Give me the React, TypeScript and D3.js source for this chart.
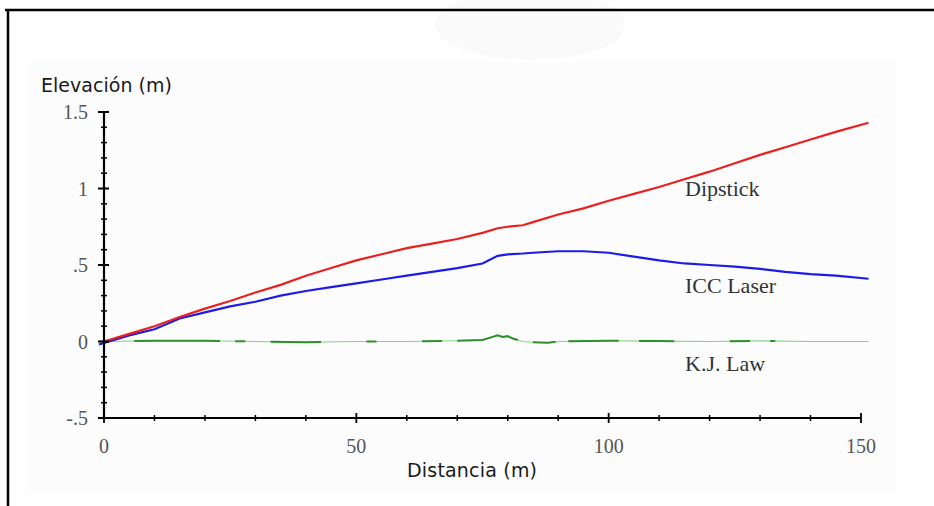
import React from "react";
import * as d3 from "d3";

// distance (m) and elevation (m)
const dipstickX = [0, 5, 10, 15, 20, 25, 30, 35, 40, 45, 50, 55, 60, 65, 70, 75, 78, 80, 83, 85, 90, 95, 100, 105, 110, 115, 120, 125, 130, 135, 140, 145, 151.5];
const dipstickY = [0, 0.05, 0.1, 0.16, 0.215, 0.265, 0.32, 0.37, 0.43, 0.48, 0.53, 0.57, 0.61, 0.64, 0.67, 0.71, 0.74, 0.75, 0.76, 0.78, 0.83, 0.87, 0.92, 0.965, 1.01, 1.06, 1.11, 1.165, 1.22, 1.27, 1.32, 1.37, 1.43];

const laserX = [-1, 0, 5, 10, 15, 20, 25, 30, 35, 40, 45, 50, 55, 60, 65, 70, 75, 78, 80, 83, 85, 90, 95, 100, 105, 110, 115, 120, 125, 130, 135, 140, 145, 151.5];
const laserY = [-0.02, -0.01, 0.04, 0.08, 0.15, 0.19, 0.23, 0.26, 0.3, 0.33, 0.355, 0.38, 0.405, 0.43, 0.455, 0.48, 0.51, 0.56, 0.57, 0.575, 0.58, 0.59, 0.59, 0.58, 0.555, 0.53, 0.51, 0.5, 0.49, 0.475, 0.455, 0.44, 0.43, 0.41];

const kjX = [-1, 0, 10, 20, 30, 40, 50, 60, 70, 75, 77, 78, 79, 80, 81, 82, 83, 85, 88, 90, 100, 110, 120, 130, 140, 151.5];
const kjY = [0, 0, 0.005, 0.005, 0, -0.005, 0, 0, 0.005, 0.01, 0.03, 0.04, 0.03, 0.035, 0.02, 0.01, 0, -0.005, -0.008, 0, 0.005, 0.003, 0, 0.004, 0, 0];
// stretches where the K.J. Law trace is drawn darker
const kjDark: [number, number][] = [[-1, 0], [6, 23], [26, 28], [33, 43], [52, 54], [63, 67], [70, 82], [85, 89.5], [92, 102], [106, 113], [124, 128], [132, 133]];

const yTicks = [-0.5, 0, 0.5, 1, 1.5];
const yTickLabels = ["-.5", "0", ".5", "1", "1.5"];
const xTicks = [0, 50, 100, 150];

const seriesLabels = ["Dipstick", "ICC Laser", "K.J. Law"];
const seriesLabelY = [1.0, 0.37, -0.14];

export default function App() {
  const W = 934, H = 506;
  const x = d3.scaleLinear().domain([0, 150]).range([104, 861]);
  const y = d3.scaleLinear().domain([-0.5, 1.5]).range([418, 112]);

  const line = d3.line<[number, number]>().x(d => x(d[0])).y(d => y(d[1]));
  const zip = (xs: number[], ys: number[]) => xs.map((v, i) => [v, ys[i]] as [number, number]);

  const kjInterp = (m: number) => {
    const i = d3.bisectRight(kjX, m);
    if (i <= 0) return kjY[0];
    if (i >= kjX.length) return kjY[kjY.length - 1];
    const t = (m - kjX[i - 1]) / (kjX[i] - kjX[i - 1]);
    return kjY[i - 1] + t * (kjY[i] - kjY[i - 1]);
  };
  const kjSegment = (a: number, b: number) => {
    const pts: [number, number][] = [[a, kjInterp(a)]];
    kjX.forEach(v => { if (v > a && v < b) pts.push([v, kjInterp(v)]); });
    pts.push([b, kjInterp(b)]);
    return pts;
  };

  const minorY = d3.range(-0.5, 1.5001, 0.1).filter(v => Math.abs(Math.round(v * 2) - v * 2) > 0.01);
  const minorX = d3.range(0, 150.01, 10).filter(v => v % 50 !== 0);

  const serif = "'Liberation Serif', 'DejaVu Serif', serif";
  const sans = "'DejaVu Sans', Verdana, sans-serif";

  return (
    <svg width={W} height={H} style={{ position: "absolute", left: 0, top: 0, background: "#fff" }}>
      <rect x={27} y={62} width={870} height={430} fill="#fcfcfc" />
      <ellipse cx={530} cy={25} rx={95} ry={35} fill="#f6f6f6" opacity={0.5} />
      <line x1={5} x2={W} y1={10} y2={10} stroke="#000" strokeWidth={2.5} />
      <line x1={8} x2={8} y1={10} y2={H} stroke="#000" strokeWidth={2.5} />

      {/* data */}
      <path d={line(zip(kjX, kjY)) || ""} fill="none" stroke="#8ccf8c" strokeWidth={1.2} />
      {kjDark.map(([a, b], i) => (
        <path key={i} d={line(kjSegment(a, b)) || ""} fill="none" stroke="#2f8f2f" strokeWidth={2} />
      ))}
      <path d={line(zip(laserX, laserY)) || ""} fill="none" stroke="#1c1ce6" strokeWidth={2.2} />
      <path d={line(zip(dipstickX, dipstickY)) || ""} fill="none" stroke="#ea2020" strokeWidth={2.2} />

      {/* axes */}
      <g stroke="#000">
        <line x1={x(0)} x2={x(0)} y1={y(1.5)} y2={y(-0.5)} strokeWidth={2.2} />
        <line x1={x(0)} x2={x(150)} y1={y(-0.5)} y2={y(-0.5)} strokeWidth={2} />
        {yTicks.map(v => (
          <line key={v} x1={x(0) - 6} x2={x(0) + 5} y1={y(v)} y2={y(v)} strokeWidth={2} />
        ))}
        {minorY.map(v => (
          <line key={v} x1={x(0) - 3} x2={x(0) + 3} y1={y(v)} y2={y(v)} strokeWidth={1.5} />
        ))}
        {xTicks.map(v => (
          <line key={v} x1={x(v)} x2={x(v)} y1={y(-0.5) - 5} y2={y(-0.5) + 5} strokeWidth={1.8} />
        ))}
        {minorX.map(v => (
          <line key={v} x1={x(v)} x2={x(v)} y1={y(-0.5) - 3} y2={y(-0.5) + 3} strokeWidth={1.5} />
        ))}
      </g>

      <g fontFamily={serif} fontSize={20} fill="#555">
        {yTicks.map((v, i) => (
          <text key={v} x={88} y={y(v)} dy="0.35em" textAnchor="end">{yTickLabels[i]}</text>
        ))}
        {xTicks.map(v => (
          <text key={v} x={x(v)} y={453} textAnchor="middle">{v}</text>
        ))}
      </g>

      <text x={41} y={92} fontFamily={sans} fontSize={19} fill="#1a1a1a" textLength={131}>Elevación (m)</text>
      <text x={407} y={477} fontFamily={sans} fontSize={19} fill="#1a1a1a" textLength={130}>Distancia (m)</text>

      <g fontFamily={serif} fontSize={22} fill="#333">
        {seriesLabels.map((s, i) => (
          <text key={s} x={685} y={y(seriesLabelY[i])} dy="0.35em">{s}</text>
        ))}
      </g>
    </svg>
  );
}
